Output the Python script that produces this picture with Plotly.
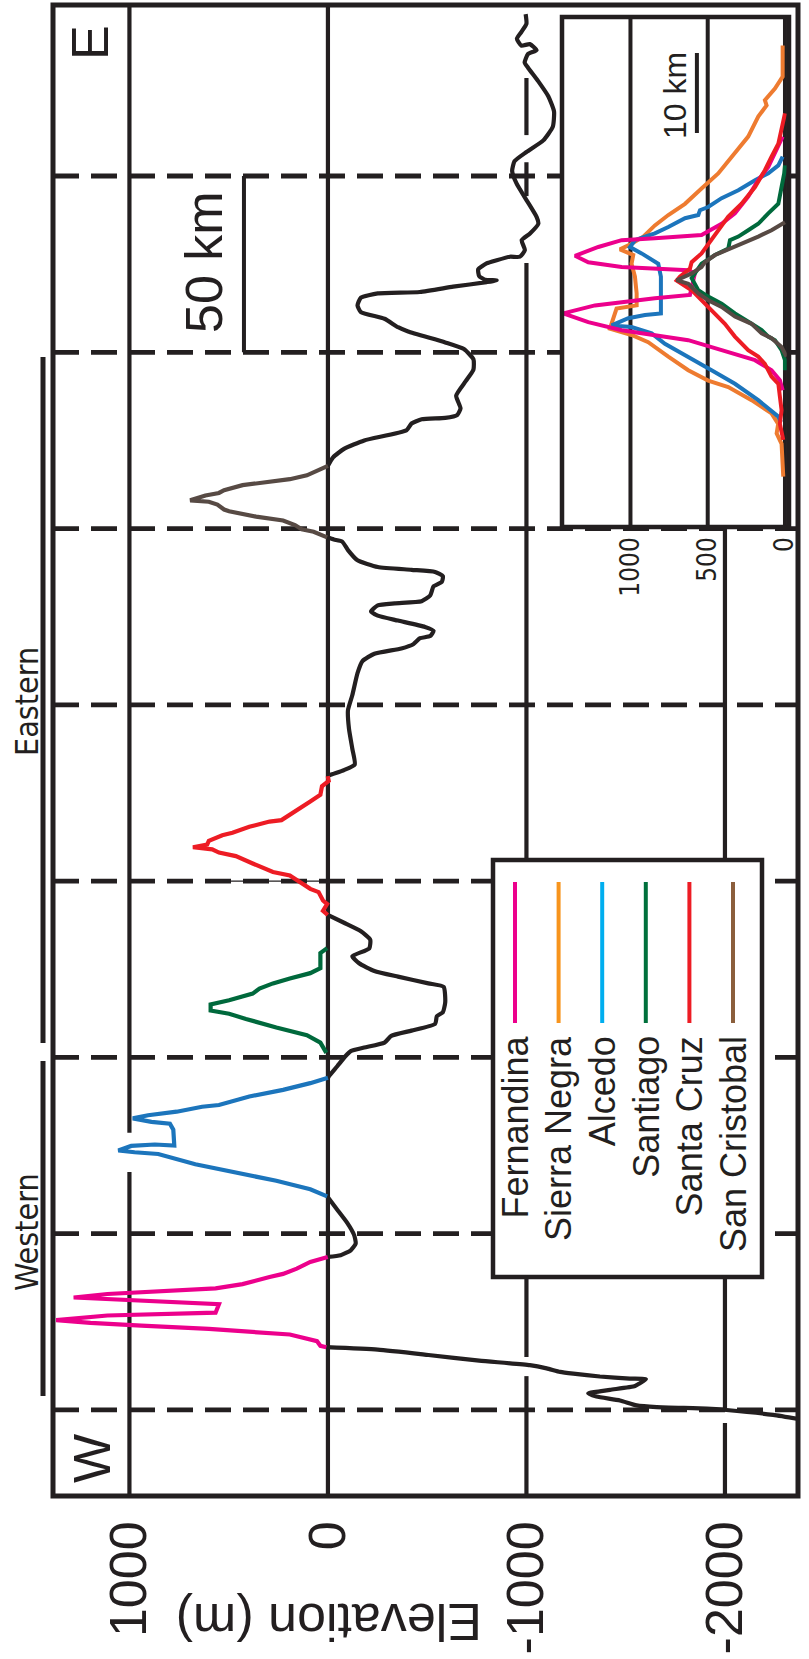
import plotly.graph_objects as go

FIG_W, FIG_H = 809, 1659
INK = "#231F20"
FONT = "Liberation Sans, Arial, Helvetica, sans-serif"
NARROW = "Liberation Sans Narrow, Arial Narrow, DejaVu Sans Condensed, Liberation Sans, sans-serif"

# ---------------------------------------------------------------------------
# Main W-E profile, (distance along profile in km, elevation in m)
# ---------------------------------------------------------------------------
SEAFLOOR_EAST = [
    (445.9, -996), (443.2, -1000), (440.8, -974), (438.9, -952), (437.0, -974),
    (437.4, -1017), (435.7, -1051), (434.6, -1008), (432.2, -991), (430.7, -1008),
    (426.9, -1059), (422.6, -1110), (418.3, -1139), (414.0, -1133), (410.1, -1085),
    (406.8, -1000), (404.2, -940), (401.4, -928), (397.9, -950), (393.1, -1001),
    (388.4, -1051), (386.5, -1060), (383.7, -1018), (381.8, -976), (379.0, -992),
    (377.1, -967), (377.1, -917), (376.1, -850), (375.2, -799), (373.5, -757),
    (371.6, -762), (370.6, -791), (370.4, -850), (369.9, -799), (368.6, -631),
    (367.1, -463), (366.7, -251), (365.5, -166), (363.3, -149), (361.4, -166),
    (359.5, -285), (357.1, -353), (355.9, -404), (352.8, -591), (350.9, -685),
    (348.0, -733), (345.1, -733), (341.8, -694), (337.7, -646), (334.1, -668),
    (332.2, -651), (331.4, -591), (331.0, -472), (329.8, -421), (327.9, -396),
    (325.0, -183), (322.6, -81), (320.2, -26), (317.8, 0),
]
SAN_CRISTOBAL = [
    (317.8, 0), (315.1, 106), (314.0, 192), (313.0, 328), (312.3, 430),
    (310.9, 523), (310.1, 549), (309.4, 617), (308.0, 694), (307.6, 600),
    (306.8, 557), (305.4, 523), (304.9, 498), (303.4, 362), (302.3, 226),
    (301.0, 166), (299.8, 132), (299.1, 72), (297.5, 4),
]
SEAFLOOR_SC = [
    (297.5, 4), (296.9, -30), (296.3, -72), (293.9, -101), (291.0, -149),
    (289.1, -251), (288.3, -421), (287.7, -540), (286.5, -579), (284.9, -574),
    (283.6, -532), (281.0, -515), (279.4, -472), (278.8, -336), (278.2, -251),
    (276.5, -217), (275.3, -251), (273.9, -353), (272.1, -489), (271.0, -532),
    (269.5, -515), (268.9, -464), (267.2, -430), (266.0, -370), (264.5, -234),
    (262.4, -174), (259.0, -149), (252.8, -123), (248.5, -101), (243.2, -106),
    (237.5, -123), (233.1, -135), (231.5, -81), (230.3, -21), (229.8, 1),
]
SANTA_CRUZ = [
    (229.8, 1), (228.4, -4), (226.9, 30), (224.5, 38), (222.6, 89),
    (220.7, 140), (219.2, 183), (217.3, 234), (216.9, 294), (215.4, 396),
    (213.7, 481), (213.0, 532), (211.4, 600), (210.4, 608), (209.6, 680),
    (209.0, 583), (208.1, 549), (207.1, 464), (205.0, 379), (202.6, 277),
    (201.6, 192), (199.7, 140), (197.8, 89), (196.9, 47), (194.5, 25),
    (193.5, 4), (191.6, 25), (190.4, 1),
]
SEAFLOOR_MID = [
    (190.4, 1), (188.2, -81), (185.8, -166), (183.4, -213), (180.9, -208),
    (178.7, -123), (176.7, -157), (174.5, -234), (172.9, -353), (171.0, -506),
    (170.0, -583), (165.7, -591), (162.8, -579), (161.7, -549), (159.5, -540),
    (157.6, -421), (156.1, -319), (154.2, -285), (152.8, -183), (151.8, -115),
    (150.4, -89), (147.5, -47), (144.6, -4), (144.2, 0),
]
SANTIAGO = [
    (181.0, 4), (179.6, 38), (175.3, 38), (173.9, 89), (172.4, 192),
    (171.0, 277), (169.5, 345), (168.1, 379), (166.2, 498), (165.0, 591),
    (163.3, 591), (162.4, 498), (160.9, 413), (160.0, 362), (158.5, 260),
    (156.3, 106), (154.2, 38), (151.3, 8),
]
ALCEDO = [
    (144.2, 0), (142.7, 89), (140.8, 226), (138.9, 396), (136.5, 549),
    (136.0, 634), (134.6, 762), (133.6, 906), (132.7, 983), (131.7, 889),
    (131.2, 796), (129.5, 779), (125.0, 774), (125.3, 872), (124.9, 991),
    (123.6, 1056), (123.1, 974), (122.6, 855), (119.7, 668), (116.9, 430),
    (115.0, 260), (112.6, 89), (110.6, 4),
]
SEAFLOOR_WEST_CHANNEL = [
    (110.6, 4), (106.8, -47), (103.0, -98), (99.6, -132), (97.2, -140),
    (95.3, -115), (93.9, -64), (93.4, 1),
]
FERNANDINA = [
    (93.4, 1), (92.0, 89), (90.1, 157), (88.6, 226), (87.7, 294),
    (85.7, 430), (84.5, 566), (83.8, 770), (83.3, 940), (82.9, 1111),
    (81.9, 1281), (80.9, 940), (80.0, 549), (77.6, 566), (77.4, 770),
    (76.8, 1111), (75.5, 1369), (74.7, 1196), (73.9, 940), (73.0, 600),
    (71.4, 192), (69.5, 55), (68.2, 38), (67.8, 8),
]
SEAFLOOR_WEST = [
    (67.8, 8), (67.1, -251), (65.6, -506), (64.0, -762), (62.7, -1017),
    (61.8, -1102), (60.8, -1170), (60.3, -1236), (59.5, -1370), (58.9, -1521),
    (58.7, -1602), (57.6, -1572), (56.8, -1547), (55.7, -1421), (54.7, -1311),
    (53.8, -1353), (52.7, -1471), (51.3, -1555), (50.8, -1656), (50.4, -1908),
    (50.0, -2008), (48.6, -2243), (47.2, -2394),
]

# ---------------------------------------------------------------------------
# Inset: volcano profiles stacked on a common centre, (km, elevation m)
# ---------------------------------------------------------------------------
INSET_SIERRA_NEGRA = [
    (60.2, 15), (56.3, 15), (54.8, 65), (53.8, 108), (53.35, 130), (52.7, 119),
    (51.3, 173), (48.8, 238), (46.7, 324), (44.2, 432), (42.3, 540), (40.4, 647),
    (39.0, 755), (37.7, 842), (36.3, 917), (35.4, 993), (34.7, 1068), (34.0, 982),
    (32.9, 993), (31.3, 971), (29.2, 960), (27.7, 960), (27.3, 1090), (26.5, 1105),
    (24.8, 1133), (24.0, 993), (23.1, 885), (21.3, 755), (19.6, 626), (18.3, 497),
    (17.5, 367), (15.85, 216), (14.2, 87), (12.9, 44), (11.7, 54), (10.4, 22),
    (6.3, 11),
]
INSET_ALCEDO = [
    (46.3, 15), (45.2, 43), (44.2, 108), (43.35, 194), (42.1, 302), (41.1, 410),
    (40.0, 497), (39.6, 550), (39.0, 561), (38.6, 647), (37.5, 755), (36.7, 842),
    (36.3, 906), (35.85, 971), (35.0, 1003), (34.2, 928), (32.9, 820), (31.3, 803),
    (26.7, 803), (26.5, 906), (26.1, 1014), (25.2, 1122), (25.0, 993), (24.2, 863),
    (22.9, 777), (21.3, 626), (19.6, 475), (17.9, 324), (15.85, 173), (13.8, 43),
    (13.1, 26),
]
INSET_FERNANDINA = [
    (48.8, 15), (47.1, 54), (45.0, 108), (43.35, 173), (41.3, 238), (39.2, 324),
    (37.9, 410), (36.5, 540), (36.3, 669), (36.1, 842), (35.85, 1057), (35.0, 1208),
    (33.9, 1359), (33.1, 1273), (32.5, 1057), (32.3, 842), (32.1, 626), (31.7, 583),
    (29.0, 615), (28.6, 842), (28.1, 1057), (27.7, 1230), (26.7, 1435), (25.6, 1273),
    (24.6, 1057), (24.0, 842), (23.35, 626), (22.1, 410), (20.85, 194), (19.6, 87),
    (18.35, 33), (17.1, 15),
]
INSET_SANTIAGO = [
    (45.2, 0), (44.2, 5), (42.5, 22), (40.4, 43), (39.2, 108), (37.9, 173),
    (37.1, 238), (36.3, 302), (35.85, 356), (34.8, 367), (34.0, 453), (32.9, 540),
    (31.7, 583), (31.1, 604), (29.6, 561), (28.8, 497), (27.9, 410), (26.7, 324),
    (25.4, 216), (24.6, 151), (23.8, 108), (23.35, 65), (22.1, 22), (20.85, 0),
    (19.6, 0),
]
INSET_SANTA_CRUZ = [
    (51.7, 0), (50.0, 22), (47.9, 43), (46.3, 87), (44.6, 130), (42.5, 194),
    (40.4, 281), (38.8, 367), (37.1, 432), (35.4, 497), (34.2, 540), (33.1, 604),
    (32.3, 615), (31.3, 680), (30.8, 701), (29.6, 604), (28.35, 540), (27.1, 475),
    (25.4, 389), (23.8, 324), (22.1, 238), (21.3, 173), (20.4, 130), (18.8, 87),
    (17.9, 43), (16.3, 33), (14.6, 22), (12.9, 33), (10.9, 11),
]
INSET_SAN_CRISTOBAL = [
    (38.1, 0), (37.1, 87), (36.3, 173), (35.4, 281), (34.6, 367), (34.0, 453),
    (33.1, 518), (32.5, 540), (31.7, 604), (30.85, 701), (30.4, 626), (29.2, 561),
    (28.35, 497), (27.5, 410), (26.3, 324), (25.4, 216), (24.2, 151), (23.6, 87),
    (22.5, 22), (21.3, -10),
]

# Axis ticks and labels
ELEV_TICKS = [1000, 0, -1000, -2000]
ELEV_TICK_TEXT = ["1000", "0", "-1000", "-2000"]
INSET_TICKS = [1000, 500, 0]
INSET_TICK_TEXT = ["1000", "500", "0"]
SECTION_BREAKS_KM = [50, 100, 150, 200, 250, 300, 350, 400]

LEGEND_NAMES = ["Fernandina", "Sierra Negra", "Alcedo", "Santiago", "Santa Cruz", "San Cristobal"]
LEGEND_COLORS = ["#EC008C", "#F7941D", "#00AEEF", "#00703C", "#ED1C24", "#8B5E3C"]

# Line colours on the profiles
C_FERN = "#EC008C"
C_SIERRA = "#EE7B30"
C_ALCEDO = "#1C75BC"
C_SANTIAGO = "#00693C"
C_SCRUZ = "#ED1C24"
C_SCRIS = "#574A44"

# Axis extents
MAIN_ELEV_RANGE = [1385, -2368]
MAIN_DIST_RANGE = [25.6, 448.5]
INSET_ELEV_RANGE = [1443, -26]
INSET_DIST_RANGE = [0, 63.75]

GRID_W = 4.2


def fx(px):
    return px / FIG_W


def fy(py):
    return 1 - py / FIG_H


fig = go.Figure()


def profile(points, color, axes="main", width=4.2, smooth=False):
    d = [p[0] for p in points]
    e = [p[1] for p in points]
    line = dict(color=color, width=width)
    if smooth:
        line.update(shape="spline", smoothing=0.5)
    kw = {} if axes == "main" else dict(xaxis="x2", yaxis="y2")
    fig.add_trace(go.Scatter(x=e, y=d, mode="lines", line=line,
                             hoverinfo="skip", showlegend=False, **kw))


# main profile: seafloor in black, islands in colour
for seg in [SEAFLOOR_EAST, SEAFLOOR_SC, SEAFLOOR_MID, SEAFLOOR_WEST_CHANNEL, SEAFLOOR_WEST]:
    profile(seg, INK, smooth=True)
profile(SAN_CRISTOBAL, C_SCRIS)
profile(SANTA_CRUZ, C_SCRUZ)
profile(SANTIAGO, C_SANTIAGO)
profile(ALCEDO, C_ALCEDO)
profile(FERNANDINA, C_FERN)

# inset profiles
profile(INSET_SIERRA_NEGRA, C_SIERRA, axes="inset", width=4)
profile(INSET_ALCEDO, C_ALCEDO, axes="inset", width=4)
profile(INSET_FERNANDINA, C_FERN, axes="inset", width=4)
profile(INSET_SANTIAGO, C_SANTIAGO, axes="inset", width=4)
profile(INSET_SANTA_CRUZ, C_SCRUZ, axes="inset", width=4)
profile(INSET_SAN_CRISTOBAL, C_SCRIS, axes="inset", width=4)

shapes = []


def vline(e, d0, d1, width=GRID_W, xref="x", yref="y", layer="below"):
    shapes.append(dict(type="line", xref=xref, yref=yref, x0=e, x1=e, y0=d0, y1=d1,
                       line=dict(color=INK, width=width), layer=layer))


# elevation grid lines of the main panel (broken where the profile crosses)
vline(1000, MAIN_DIST_RANGE[0], 117.5)
vline(1000, 128.6, MAIN_DIST_RANGE[1])
vline(0, MAIN_DIST_RANGE[0], MAIN_DIST_RANGE[1])
for d0, d1 in [(411.6, 427.8), (394.3, 403.9), (65.0, 375.3), (MAIN_DIST_RANGE[0], 59.6)]:
    vline(-1000, d0, d1)
for d0, d1 in [(MAIN_DIST_RANGE[0], 46.3), (50.0, 300.4)]:
    vline(-2000, d0, d1)

# dashed section boundaries
for d in SECTION_BREAKS_KM:
    shapes.append(dict(type="line", xref="x", yref="y", x0=MAIN_ELEV_RANGE[0], x1=MAIN_ELEV_RANGE[1],
                       y0=d, y1=d, line=dict(color=INK, width=4.8, dash="26px,12px"), layer="below"))
shapes.append(dict(type="line", xref="x", yref="y", x0=532, x1=0, y0=200, y1=200,
                   line=dict(color=INK, width=1.3), layer="below"))

# 50 km scale bar
shapes.append(dict(type="line", xref="x", yref="y", x0=423, x1=423, y0=350, y1=400,
                   line=dict(color=INK, width=4), layer="above"))

# main frame
shapes.append(dict(type="rect", xref="paper", yref="paper", x0=fx(53), x1=fx(798), y0=fy(1496), y1=fy(5),
                   line=dict(color=INK, width=5), fillcolor="rgba(0,0,0,0)", layer="above"))

# inset panel: white backing, grid, frame and 10 km bar
shapes.append(dict(type="rect", xref="x2", yref="y2", x0=INSET_ELEV_RANGE[0], x1=INSET_ELEV_RANGE[1],
                   y0=INSET_DIST_RANGE[0], y1=INSET_DIST_RANGE[1], line=dict(width=0),
                   fillcolor="white", layer="below"))
for e in INSET_TICKS:
    vline(e, INSET_DIST_RANGE[0], INSET_DIST_RANGE[1], width=4, xref="x2", yref="y2")
shapes.append(dict(type="rect", xref="paper", yref="paper", x0=fx(562), x1=fx(789), y0=fy(527), y1=fy(17),
                   line=dict(color=INK, width=4.5), fillcolor="rgba(0,0,0,0)", layer="above"))
shapes.append(dict(type="line", xref="x2", yref="y2", x0=570, x1=570, y0=49.25, y1=59.25,
                   line=dict(color=INK, width=4), layer="above"))

# Western / Eastern province bars
shapes.append(dict(type="line", xref="paper", yref="paper", x0=fx(43), x1=fx(43), y0=fy(357), y1=fy(1043),
                   line=dict(color=INK, width=5), layer="above"))
shapes.append(dict(type="line", xref="paper", yref="paper", x0=fx(43), x1=fx(43), y0=fy(1061), y1=fy(1396),
                   line=dict(color=INK, width=5), layer="above"))

# legend box with vertical swatches
shapes.append(dict(type="rect", xref="paper", yref="paper", x0=fx(493), x1=fx(762), y0=fy(1277), y1=fy(860),
                   line=dict(color=INK, width=4.5), fillcolor="white", layer="above"))
legend_x = [515 + i * 43.6 for i in range(len(LEGEND_NAMES))]
for xp, col in zip(legend_x, LEGEND_COLORS):
    shapes.append(dict(type="line", xref="paper", yref="paper", x0=fx(xp), x1=fx(xp), y0=fy(1023), y1=fy(882),
                       line=dict(color=col, width=4), layer="above"))

fig.update_layout(shapes=shapes)


def note(text, x_px, y_px, size, angle=-90, family=FONT, xanchor="center", yanchor="middle"):
    fig.add_annotation(text=text, xref="paper", yref="paper", x=fx(x_px), y=fy(y_px),
                       showarrow=False, textangle=angle, xanchor=xanchor, yanchor=yanchor,
                       font=dict(family=family, size=size, color=INK))


for xp, name in zip(legend_x, LEGEND_NAMES):
    note(name, xp, 1034, 36, yanchor="top")

note("50 km", 204, 262, 52)
note("10 km", 675, 96, 32)
note("E", 90, 43, 52)
note("W", 92, 1459, 52)
note("Eastern", 27, 702, 32, family=NARROW)
note("Western", 27, 1232, 32, family=NARROW)
note("Elevation (m)", 329, 1622, 52, angle=180)

axis_common = dict(showgrid=False, zeroline=False, showline=False, fixedrange=True, automargin=False)

fig.update_layout(
    template="none",
    width=FIG_W, height=FIG_H,
    margin=dict(l=0, r=0, t=0, b=0),
    paper_bgcolor="white", plot_bgcolor="white",
    showlegend=False,
    xaxis=dict(domain=[fx(53), fx(798)], range=MAIN_ELEV_RANGE, anchor="y",
               tickmode="array", tickvals=ELEV_TICKS, ticktext=ELEV_TICK_TEXT,
               tickangle=-90, ticks="", ticklabelstandoff=14,
               tickfont=dict(family=FONT, size=52, color=INK), **axis_common),
    yaxis=dict(domain=[fy(1496), fy(5)], range=MAIN_DIST_RANGE, anchor="x",
               showticklabels=False, ticks="", **axis_common),
    xaxis2=dict(domain=[fx(562), fx(789)], range=INSET_ELEV_RANGE, anchor="y2",
                tickmode="array", tickvals=INSET_TICKS, ticktext=INSET_TICK_TEXT,
                tickangle=-90, ticks="", ticklabelstandoff=4,
                tickfont=dict(family=NARROW, size=26, color=INK), **axis_common),
    yaxis2=dict(domain=[fy(527), fy(17)], range=INSET_DIST_RANGE, anchor="x2",
                showticklabels=False, ticks="", **axis_common),
)

fig.write_html("out.html")
